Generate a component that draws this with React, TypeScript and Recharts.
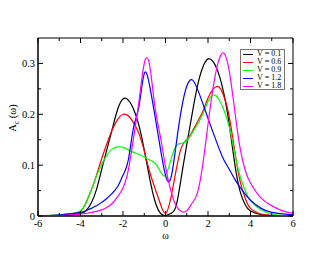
import React from 'react';
import { LineChart, Line, XAxis, YAxis, ReferenceArea } from 'recharts';

// frequency grid (omega)
const omega = [
  -6, -5.5, -5, -4.5, -4, -3.75, -3.5, -3.25, -3, -2.75, -2.5, -2.25, -2, -1.75, -1.5, -1.25, -1, -0.75, -0.5, -0.25,
  0, 0.25, 0.5, 0.75, 1, 1.25, 1.5, 1.75, 2, 2.25, 2.5, 2.75, 3, 3.25, 3.5, 3.75, 4, 4.5, 5, 5.5, 6,
];

const v01 = [
  0, 0, 0.001, 0.002, 0.005, 0.01, 0.025, 0.052, 0.092, 0.132, 0.172, 0.21, 0.23, 0.228, 0.21, 0.178, 0.13, 0.075, 0.03, 0.006,
  0.001, 0.005, 0.02, 0.078, 0.14, 0.2, 0.255, 0.292, 0.309, 0.303, 0.28, 0.24, 0.18, 0.105, 0.05, 0.022, 0.01, 0.003, 0.001, 0, 0,
];
const v06 = [
  0, 0.001, 0.002, 0.004, 0.01, 0.025, 0.05, 0.08, 0.113, 0.143, 0.17, 0.19, 0.2, 0.197, 0.183, 0.162, 0.128, 0.088, 0.055, 0.025,
  0.005, 0.035, 0.09, 0.135, 0.15, 0.165, 0.185, 0.205, 0.232, 0.25, 0.254, 0.235, 0.195, 0.13, 0.07, 0.035, 0.015, 0.004, 0.001, 0, 0,
];
const v09 = [
  0, 0.001, 0.002, 0.004, 0.01, 0.025, 0.05, 0.078, 0.102, 0.12, 0.132, 0.136, 0.135, 0.13, 0.125, 0.121, 0.116, 0.11, 0.104, 0.088,
  0.08, 0.11, 0.138, 0.143, 0.148, 0.163, 0.18, 0.2, 0.225, 0.238, 0.23, 0.208, 0.175, 0.125, 0.08, 0.05, 0.03, 0.012, 0.004, 0.001, 0,
];
const v12 = [
  0.001, 0.001, 0.002, 0.004, 0.007, 0.01, 0.015, 0.02, 0.027, 0.035, 0.045, 0.058, 0.08, 0.11, 0.175, 0.215, 0.28, 0.257, 0.198, 0.135,
  0.08, 0.074, 0.14, 0.21, 0.255, 0.268, 0.25, 0.222, 0.192, 0.163, 0.135, 0.11, 0.092, 0.073, 0.057, 0.043, 0.031, 0.015, 0.007, 0.004, 0.002,
];
const v18 = [
  0.001, 0.001, 0.001, 0.002, 0.004, 0.005, 0.007, 0.009, 0.012, 0.017, 0.025, 0.038, 0.055, 0.09, 0.155, 0.225, 0.3, 0.297, 0.215, 0.158,
  0.097, 0.05, 0.02, 0.009, 0.01, 0.025, 0.045, 0.1, 0.18, 0.255, 0.305, 0.32, 0.285, 0.21, 0.136, 0.09, 0.065, 0.035, 0.02, 0.01, 0.005,
];

const seriesNames = ['V = 0.1', 'V = 0.6', 'V = 0.9', 'V = 1.2', 'V = 1.8'];
const seriesColors = ['#000000', '#ff0000', '#00ff00', '#0000ff', '#ff00ff'];
const seriesValues = [v01, v06, v09, v12, v18];

const xTicks = [-6, -5, -4, -3, -2, -1, 0, 1, 2, 3, 4, 5, 6];
const yTicks = [0, 0.05, 0.1, 0.15, 0.2, 0.25, 0.3];
const xDomain = [-6, 6];
const yDomain = [0, 0.35];

const data = omega.map((w, i) => {
  const row: any = { w };
  seriesValues.forEach((vals, k) => {
    row['s' + k] = vals[i];
  });
  return row;
});

const W = 330;
const H = 255;
const MARGIN = { top: 38, right: 37, bottom: 19, left: 0 };
const FONT = '"Liberation Serif", "DejaVu Serif", "Times New Roman", serif';

const isMajorX = (v: number) => Math.abs(v) % 2 === 0;
const isMajorY = (v: number) => Math.round(v * 100) % 10 === 0;

// bottom tick + mirrored tick on the top frame edge
const BottomTick = (props: any) => {
  const { x, y, payload } = props;
  const v = payload.value;
  const major = isMajorX(v);
  const len = major ? 5 : 3;
  return (
    <g>
      <line x1={x} y1={y} x2={x} y2={y - len} stroke="#000" />
      <line x1={x} y1={MARGIN.top} x2={x} y2={MARGIN.top + len} stroke="#000" />
      {major && (
        <text x={x} y={y + 11} textAnchor="middle" fontSize={10.5} fontFamily={FONT} fill="#000">
          {String(v)}
        </text>
      )}
    </g>
  );
};

// left tick + mirrored tick on the right frame edge
const LeftTick = (props: any) => {
  const { x, y, payload } = props;
  const v = payload.value;
  const major = isMajorY(v);
  const len = major ? 5 : 3;
  const xr = W - MARGIN.right;
  return (
    <g>
      <line x1={x} y1={y} x2={x + len} y2={y} stroke="#000" />
      <line x1={xr} y1={y} x2={xr - len} y2={y} stroke="#000" />
      {major && (
        <text x={x - 3} y={y} dy="0.35em" textAnchor="end" fontSize={10.5} fontFamily={FONT} fill="#000">
          {v === 0 ? '0' : v.toFixed(1)}
        </text>
      )}
    </g>
  );
};

const YLabel = () => (
  <text transform="translate(16,118) rotate(-90)" textAnchor="middle" fontSize={10.5} fontFamily={FONT} fill="#000">
    A<tspan fontSize={7.5} dy={3}>c</tspan>
    <tspan dy={-3}> (ω)</tspan>
  </text>
);

const XLabel = (props: any) => {
  const { viewBox } = props;
  return (
    <text x={viewBox.x + viewBox.width / 2} y={239} textAnchor="middle" fontSize={10} fontFamily={FONT} fill="#000">
      ω
    </text>
  );
};

export default function App() {
  return (
    <div style={{ position: 'absolute', left: 0, top: 0, width: W, height: H, background: '#fff' }}>
      <LineChart width={W} height={H} data={data} margin={MARGIN}>
        <XAxis
          dataKey="w"
          type="number"
          domain={xDomain}
          ticks={xTicks}
          interval={0}
          tickSize={0}
          tickMargin={0}
          tick={BottomTick}
          axisLine={{ stroke: '#000' }}
          height={20}
          allowDataOverflow
          label={<XLabel />}
        />
        <YAxis
          type="number"
          domain={yDomain}
          ticks={yTicks}
          interval={0}
          tickSize={0}
          tickMargin={0}
          tick={LeftTick}
          axisLine={{ stroke: '#000' }}
          width={38}
          allowDataOverflow
          label={<YLabel />}
        />
        <ReferenceArea
          x1={xDomain[0]}
          x2={xDomain[1]}
          y1={yDomain[0]}
          y2={yDomain[1]}
          fill="none"
          fillOpacity={0}
          stroke="#000"
          strokeWidth={1}
          ifOverflow="visible"
        />
        {seriesNames.map((name, k) => (
          <Line
            key={name}
            name={name}
            type="natural"
            dataKey={'s' + k}
            stroke={seriesColors[k]}
            strokeWidth={1.2}
            dot={false}
            isAnimationActive={false}
          />
        ))}
      </LineChart>
      <div
        style={{
          position: 'absolute',
          left: 240,
          top: 49,
          width: 45,
          height: 41,
          border: '1px solid #777',
          background: '#fff',
          boxSizing: 'border-box',
          fontFamily: FONT,
          fontSize: 8,
        }}
      >
        {seriesNames.map((name, k) => (
          <div key={name} style={{ display: 'flex', alignItems: 'center', height: 8, lineHeight: '8px' }}>
            <span
              style={{
                display: 'inline-block',
                width: 10,
                height: 0,
                borderTop: `1.5px solid ${seriesColors[k]}`,
                marginLeft: 2,
                marginRight: 4,
              }}
            />
            <span style={{ whiteSpace: 'nowrap' }}>{name}</span>
          </div>
        ))}
      </div>
    </div>
  );
}
